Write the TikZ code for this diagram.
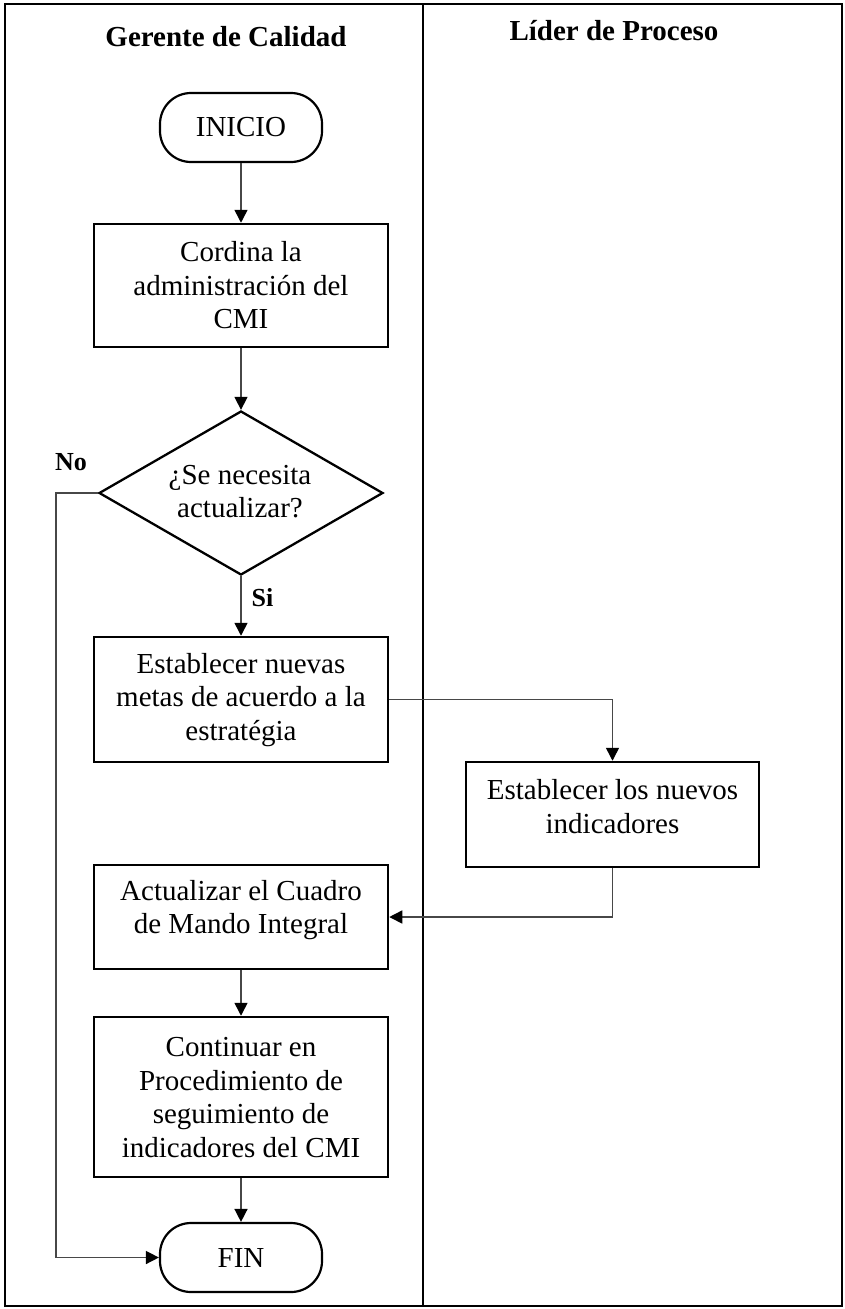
\documentclass[tikz,border=0pt]{standalone}
\usepackage{fontspec}
\setmainfont{Liberation Serif}
\usetikzlibrary{arrows.meta,shapes.geometric}
\begin{document}
\begin{tikzpicture}[x=1pt,y=-1pt,
  frame/.style={line width=2.8pt, draw=black},
  box/.style={draw, line width=2.5pt, rectangle, minimum width=294pt, inner sep=0pt},
  term/.style={draw, line width=2.2pt, rounded corners=31pt, minimum width=162pt,
               minimum height=69pt, inner sep=0pt, font=\fontsize{29}{33.5}\selectfont},
  decision/.style={draw, line width=2.3pt, diamond, minimum width=284pt,
                   minimum height=164pt, inner sep=0pt},
  txt/.style={align=center, font=\fontsize{29}{33.5}\selectfont, inner sep=0pt},
  head/.style={font=\fontsize{29}{33.5}\selectfont\bfseries, inner sep=0pt},
  tag/.style={font=\fontsize{26}{30}\selectfont\bfseries, inner sep=0pt},
  flow/.style={line width=1.5pt, draw=black!72,
               -{Triangle[length=13pt,width=13pt,color=black]}}
]
\useasboundingbox (0,0) rectangle (845,1309);

% swimlane frame
\draw[frame] (5,4) rectangle (842,1306);
\draw[frame] (423,4) -- (423,1306);

% lane headers
\node[head] (h1) at (226,37) {Gerente de Calidad};
\node[head] (h2) at (614,31) {Líder de Proceso};

% flow shapes
\node[term] (start) at (241,127.5) {INICIO};
\node[box, minimum height=123pt] (b1) at (241,285.5) {};
\node[decision] (dec) at (241,493) {};
\node[box, minimum height=125pt] (b2) at (241,699.5) {};
\node[box, minimum width=293pt, minimum height=105pt] (b4) at (612.5,814.5) {};
\node[box, minimum height=104pt] (b3) at (241,917) {};
\node[box, minimum height=160pt] (b5) at (241,1097) {};
\node[term] (fin) at (241,1257.5) {FIN};

% texts inside the shapes
\node[txt] (t1) at (241,285.5) {Cordina la\\administración del\\CMI};
\node[txt] (tq) at (240,491.5) {¿Se necesita\\actualizar?};
\node[txt] (t2) at (241,700) {Establecer nuevas\\metas de acuerdo a la\\estratégia};
\node[txt] (t4) at (612.5,806.5) {Establecer los nuevos\\indicadores};
\node[txt] (t3) at (241,910) {Actualizar el Cuadro\\de Mando Integral};
\node[txt] (t5) at (241,1097.5) {Continuar en\\Procedimiento de\\seguimiento de\\indicadores del CMI};

% branch labels
\node[tag] (no) at (71,462) {No};
\node[tag] (si) at (262.5,598) {Si};

% connectors
\coordinate (nobend) at (56,493);
\draw[flow] (start) -- (b1);
\draw[flow] (b1) -- (dec);
\draw[flow] (dec) -- (b2);
\draw[flow] (dec.west) -- (nobend) |- (fin.west);
\draw[flow] (b2.east) -| (b4.north);
\draw[flow] (b4.south) |- (b3.east);
\draw[flow] (b3) -- (b5);
\draw[flow] (b5) -- (fin);
\end{tikzpicture}
\end{document}
